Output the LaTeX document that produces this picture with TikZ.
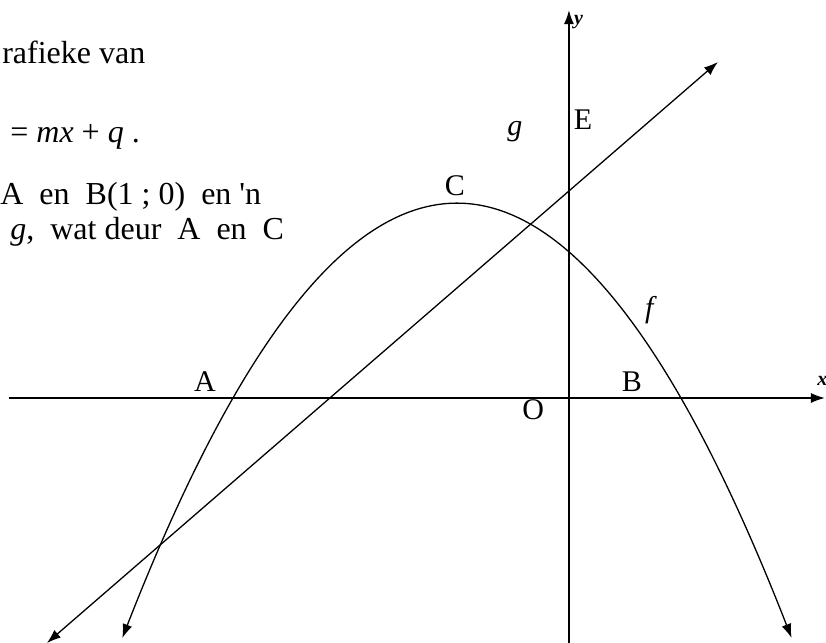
\documentclass[tikz,border=0pt]{standalone}
\usepackage{fontspec}
\setmainfont{Liberation Serif}
\usetikzlibrary{arrows.meta}
\usetikzlibrary{positioning}

\begin{document}
\begin{tikzpicture}[x=56pt,y=56pt,
    axis/.style={line width=0.8pt,-{Latex[length=7pt,width=5pt]}},
    curve/.style={line width=0.65pt,{Latex[length=7pt,width=5pt]}-{Latex[length=7pt,width=5pt]}},
    lbl/.style={font=\fontsize{15}{17}\selectfont,inner sep=0pt},
    txt/.style={font=\fontsize{16}{19}\selectfont,inner sep=0pt,anchor=base west}]
    \useasboundingbox (-5.080,-2.1875) rectangle (2.295,3.5536);

    % teks links bo
    \node[txt] (t1) at (-5.063,2.991) {rafieke van};
    \node[txt] (t2) at (-4.991,2.277) {= \textit{mx} + \textit{q} .};
    \node[txt] (t3) at (-5.080,1.732) {A~ en~ B(1 ; 0)~ en \textquotesingle n};
    \node[txt] (t4) at (-4.991,1.411) {\textit{g},~ wat deur~ A~ en~ C};

    % assen
    \coordinate (xl) at (-5.0,0);
    \coordinate (xr) at (2.286,0);
    \coordinate (yb) at (0,-2.3);
    \coordinate (yt) at (0,3.464);
    \draw[axis] (xl) -- (xr);
    \draw[axis] (yb) -- (yt);

    % grafieke
    \draw[curve] plot[domain=-3.988:1.988,samples=80,smooth] (\x,{-0.435*(\x+3)*(\x-1)});
    \coordinate (g1) at (-4.661,-2.1875);
    \coordinate (g2) at (1.330,3.0);
    \draw[curve] (g1) -- (g2);

    % byskrifte
    \node[lbl] (A) at (-3.25,0.143) {A};
    \node[lbl] (B) at (0.5625,0.143) {B};
    \node[lbl] (O) at (-0.32,-0.107) {O};
    \node[lbl] (C) at (-1.018,1.893) {C};
    \node[lbl] (E) at (0.125,2.482) {E};
    \node[lbl] (labg) at (-0.482,2.375) {\textit{g}};
    \node[lbl] (labf) at (0.732,0.786) {\textit{f}};
    \node[lbl,font=\fontsize{10}{12}\selectfont] (laby) at (0.085,3.357) {\textbf{\textit{y}}};
    \node[lbl,font=\fontsize{10}{12}\selectfont] (labx) at (2.262,0.15) {\textbf{\textit{x}}};
\end{tikzpicture}
\end{document}
